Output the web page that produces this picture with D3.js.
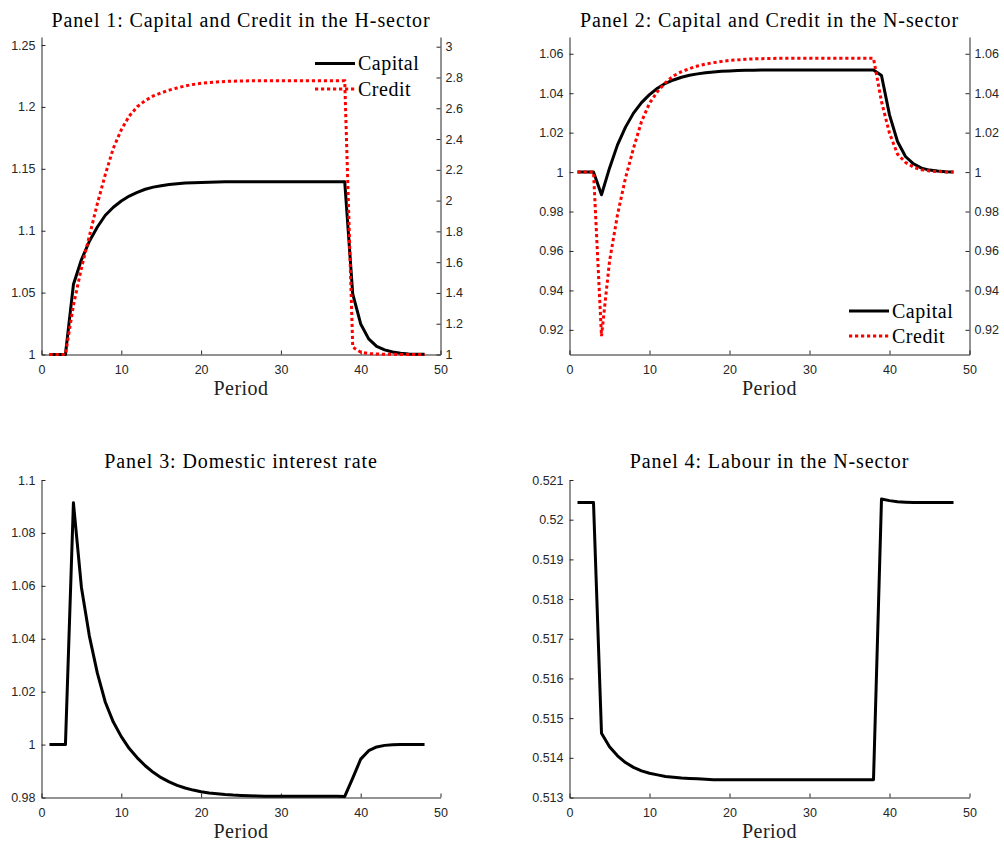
<!DOCTYPE html>
<html>
<head>
<meta charset="utf-8">
<script src="https://cdn.jsdelivr.net/npm/d3@7"></script>
<style>
  body { margin: 0; background: #fff; }
</style>
</head>
<body>
<svg id="chart"></svg>
<script>
// ---- data ----
const periods = [1, 2, 3, 4, 5, 6, 7, 8, 9, 10, 11, 12, 13, 14, 15, 16, 17, 18, 19, 20, 21, 22, 23, 24,
  25, 26, 27, 28, 29, 30, 31, 32, 33, 34, 35, 36, 37, 38, 39, 40, 41, 42, 43, 44, 45, 46, 47, 48];

// Panel 1 (capital on left axis, credit on right axis)
const capitalH = [1, 1, 1, 1.0565, 1.0765, 1.0915, 1.1030, 1.1125, 1.1190, 1.1240, 1.1280, 1.1310,
  1.1335, 1.1352, 1.1364, 1.1373, 1.1380, 1.1385, 1.1388, 1.1390, 1.1392, 1.1394,
  1.1395, 1.1395, 1.1395, 1.1395, 1.1395, 1.1395, 1.1395, 1.1395, 1.1395, 1.1395, 1.1395, 1.1395,
  1.1395, 1.1395, 1.1395, 1.1395,
  1.0490, 1.0247, 1.0126, 1.0065, 1.0037, 1.0020, 1.0010, 1.0005, 1.0003, 1.0002];
const creditH = [1, 1, 1, 1.32, 1.56, 1.77, 1.98, 2.17, 2.34, 2.46, 2.55, 2.61, 2.65, 2.68, 2.70,
  2.718, 2.732, 2.745, 2.755, 2.762, 2.767, 2.771, 2.774, 2.776, 2.777,
  2.778, 2.778, 2.778, 2.778, 2.778, 2.778, 2.778, 2.778, 2.778, 2.778, 2.778, 2.778, 2.778,
  1.048, 1.015, 1.006, 1.003, 1.002, 1.001, 1, 1, 1, 1];

// Panel 2
const capitalN = [1, 1, 1, 0.9885, 1.0020, 1.0138, 1.0228, 1.0299, 1.0352, 1.0393, 1.0425, 1.0450,
  1.0467, 1.0481, 1.0491, 1.0498, 1.0504, 1.0508, 1.0511, 1.0513, 1.0515, 1.0516, 1.0517,
  1.0518, 1.0518, 1.0518, 1.0518, 1.0518, 1.0518, 1.0518, 1.0518, 1.0518, 1.0518, 1.0518, 1.0518,
  1.0518, 1.0518, 1.0518,
  1.0490, 1.0290, 1.0155, 1.0079, 1.0042, 1.0020, 1.0010, 1.0005, 1.0002, 1.0001];
const creditN = [1, 1, 1, 0.9168, 0.9547, 0.9784, 0.9970, 1.0121, 1.0256, 1.0349, 1.0408, 1.0454,
  1.0488, 1.0509, 1.0525, 1.0538, 1.0548, 1.0555, 1.0561, 1.0566, 1.0569, 1.0572, 1.0574, 1.0575, 1.0576,
  1.0577, 1.0577, 1.0577, 1.0577, 1.0577, 1.0577, 1.0577, 1.0577, 1.0577, 1.0577, 1.0577, 1.0577, 1.0577,
  1.0357, 1.0197, 1.0091, 1.0049, 1.0025, 1.0012, 1.0006, 1.0003, 1.0001, 1.0000];

// Panel 3
const interestRate = [1, 1, 1, 1.0914, 1.0595, 1.0410, 1.0270, 1.0160, 1.0085, 1.0030, 0.9985, 0.9950,
  0.9920, 0.9895, 0.9875, 0.9859, 0.9846, 0.9836, 0.9828, 0.9822, 0.9817, 0.9814, 0.9811, 0.9809,
  0.9808, 0.9807, 0.9806,
  0.9805, 0.9805, 0.9805, 0.9805, 0.9805, 0.9805, 0.9805, 0.9805, 0.9805, 0.9805, 0.9804,
  0.9873, 0.9945, 0.9977, 0.9991, 0.9997, 0.9999, 1, 1, 1, 1];

// Panel 4
const labourN = [0.52043, 0.52043, 0.52043, 0.51462, 0.51428, 0.51405, 0.51388, 0.51376, 0.51367,
  0.51361, 0.51357, 0.51353, 0.51351, 0.51349, 0.51348, 0.51347, 0.51346,
  0.51345, 0.51345, 0.51345, 0.51345, 0.51345, 0.51345, 0.51345, 0.51345, 0.51345, 0.51345,
  0.51345, 0.51345, 0.51345, 0.51345, 0.51345, 0.51345, 0.51345, 0.51345, 0.51345, 0.51345, 0.51345,
  0.52052, 0.52048, 0.52045, 0.52044, 0.52043, 0.52043, 0.52043, 0.52043, 0.52043, 0.52043];

// tick values
const xTicks = [0, 10, 20, 30, 40, 50];
const p1LeftTicks = [1, 1.05, 1.1, 1.15, 1.2, 1.25];
const p1RightTicks = [1, 1.2, 1.4, 1.6, 1.8, 2, 2.2, 2.4, 2.6, 2.8, 3];
const p2Ticks = [0.92, 0.94, 0.96, 0.98, 1, 1.02, 1.04, 1.06];
const p3Ticks = [0.98, 1, 1.02, 1.04, 1.06, 1.08, 1.1];
const p4Ticks = [0.513, 0.514, 0.515, 0.516, 0.517, 0.518, 0.519, 0.52, 0.521];

const titles = [
  "Panel 1: Capital and Credit in the H-sector",
  "Panel 2: Capital and Credit in the N-sector",
  "Panel 3: Domestic interest rate",
  "Panel 4: Labour in the N-sector"
];
const seriesNames = ["Capital", "Credit"];

// ---- styles ----
const serif = "'Liberation Serif', 'Times New Roman', serif";
const sans = "'Liberation Sans', Arial, Helvetica, sans-serif";
const axisColor = "#262626";
const fmt = d => String(+d.toFixed(4));

const svg = d3.select("#chart").attr("width", 1004).attr("height", 844);
svg.append("rect").attr("width", 1004).attr("height", 844).attr("fill", "#fff");

function styleAxis(g) {
  g.attr("font-family", sans).attr("font-size", 12.5);
  g.select(".domain").attr("stroke", axisColor);
  g.selectAll(".tick line").attr("stroke", axisColor);
  g.selectAll(".tick text").attr("fill", axisColor);
}

function drawPanel(p) {
  const x = d3.scaleLinear().domain([0, 50]).range([p.left, p.right]);
  const y = d3.scaleLinear().domain(p.yDomain).range([p.bottom, p.top]);

  // x axis, ticks pointing inward
  svg.append("g")
    .attr("transform", `translate(0,${p.bottom})`)
    .call(d3.axisBottom(x).tickValues(xTicks).tickFormat(fmt)
      .tickSizeInner(-4).tickSizeOuter(0).tickPadding(11))
    .call(styleAxis);

  // left y axis
  svg.append("g")
    .attr("transform", `translate(${p.left},0)`)
    .call(d3.axisLeft(y).tickValues(p.yTicks).tickFormat(fmt)
      .tickSizeInner(-4).tickSizeOuter(0).tickPadding(6))
    .call(styleAxis);

  // right y axis (only for the two-axis panels)
  let y2 = y;
  if (p.rightTicks) {
    y2 = p.rightDomain ? d3.scaleLinear().domain(p.rightDomain).range([p.bottom, p.top]) : y;
    svg.append("g")
      .attr("transform", `translate(${p.right},0)`)
      .call(d3.axisRight(y2).tickValues(p.rightTicks).tickFormat(fmt)
        .tickSizeInner(-4).tickSizeOuter(0).tickPadding(5))
      .call(styleAxis);
  }

  // title and x label
  svg.append("text")
    .attr("x", (p.left + p.right) / 2).attr("y", p.titleY)
    .attr("text-anchor", "middle")
    .attr("font-family", serif).attr("font-size", 20).attr("letter-spacing", 0.9)
    .attr("fill", "#000")
    .text(p.title);

  svg.append("text")
    .attr("x", (p.left + p.right) / 2).attr("y", p.bottom + 40.5)
    .attr("text-anchor", "middle")
    .attr("font-family", serif).attr("font-size", 20).attr("letter-spacing", 0.5)
    .attr("fill", "#222")
    .text("Period");

  // black solid line
  const line1 = d3.line().x((d, i) => x(periods[i])).y(d => y(d));
  svg.append("path")
    .datum(p.series1)
    .attr("d", line1)
    .attr("fill", "none")
    .attr("stroke", "#000")
    .attr("stroke-width", 3)
    .attr("stroke-linejoin", "round");

  // red dotted line
  if (p.series2) {
    const line2 = d3.line().x((d, i) => x(periods[i])).y(d => y2(d));
    svg.append("path")
      .datum(p.series2)
      .attr("d", line2)
      .attr("fill", "none")
      .attr("stroke", "#ff0000")
      .attr("stroke-width", 3)
      .attr("stroke-dasharray", "3.2,2.8");
  }

  // legend
  if (p.legend) {
    seriesNames.forEach((name, i) => {
      const ly = p.legend.y + i * p.legend.step;
      svg.append("line")
        .attr("x1", p.legend.x).attr("x2", p.legend.x + 40)
        .attr("y1", ly).attr("y2", ly)
        .attr("stroke", i === 0 ? "#000" : "#ff0000")
        .attr("stroke-width", 3)
        .attr("stroke-dasharray", i === 0 ? null : "3.2,2.8");
      svg.append("text")
        .attr("x", p.legend.x + 43).attr("y", ly + 6.5)
        .attr("font-family", serif).attr("font-size", 20).attr("letter-spacing", 0.5)
        .attr("fill", "#000")
        .text(name);
    });
  }
}

drawPanel({
  left: 41.5, right: 440.5, top: 37, bottom: 354.5, titleY: 27,
  yDomain: [1, 1.2565], yTicks: p1LeftTicks,
  rightDomain: [1, 3.063], rightTicks: p1RightTicks,
  series1: capitalH, series2: creditH, title: titles[0],
  legend: { x: 315, y: 63.5, step: 25.5 }
});

drawPanel({
  left: 569.5, right: 969.5, top: 37, bottom: 354.5, titleY: 27,
  yDomain: [0.9075, 1.0685], yTicks: p2Ticks,
  rightTicks: p2Ticks,
  series1: capitalN, series2: creditN, title: titles[1],
  legend: { x: 849, y: 311, step: 25 }
});

drawPanel({
  left: 41.5, right: 440.5, top: 480, bottom: 797.5, titleY: 468,
  yDomain: [0.98, 1.1], yTicks: p3Ticks,
  series1: interestRate, title: titles[2]
});

drawPanel({
  left: 569.5, right: 969.5, top: 480, bottom: 797.5, titleY: 468,
  yDomain: [0.513, 0.521], yTicks: p4Ticks,
  series1: labourN, title: titles[3]
});
</script>
</body>
</html>
